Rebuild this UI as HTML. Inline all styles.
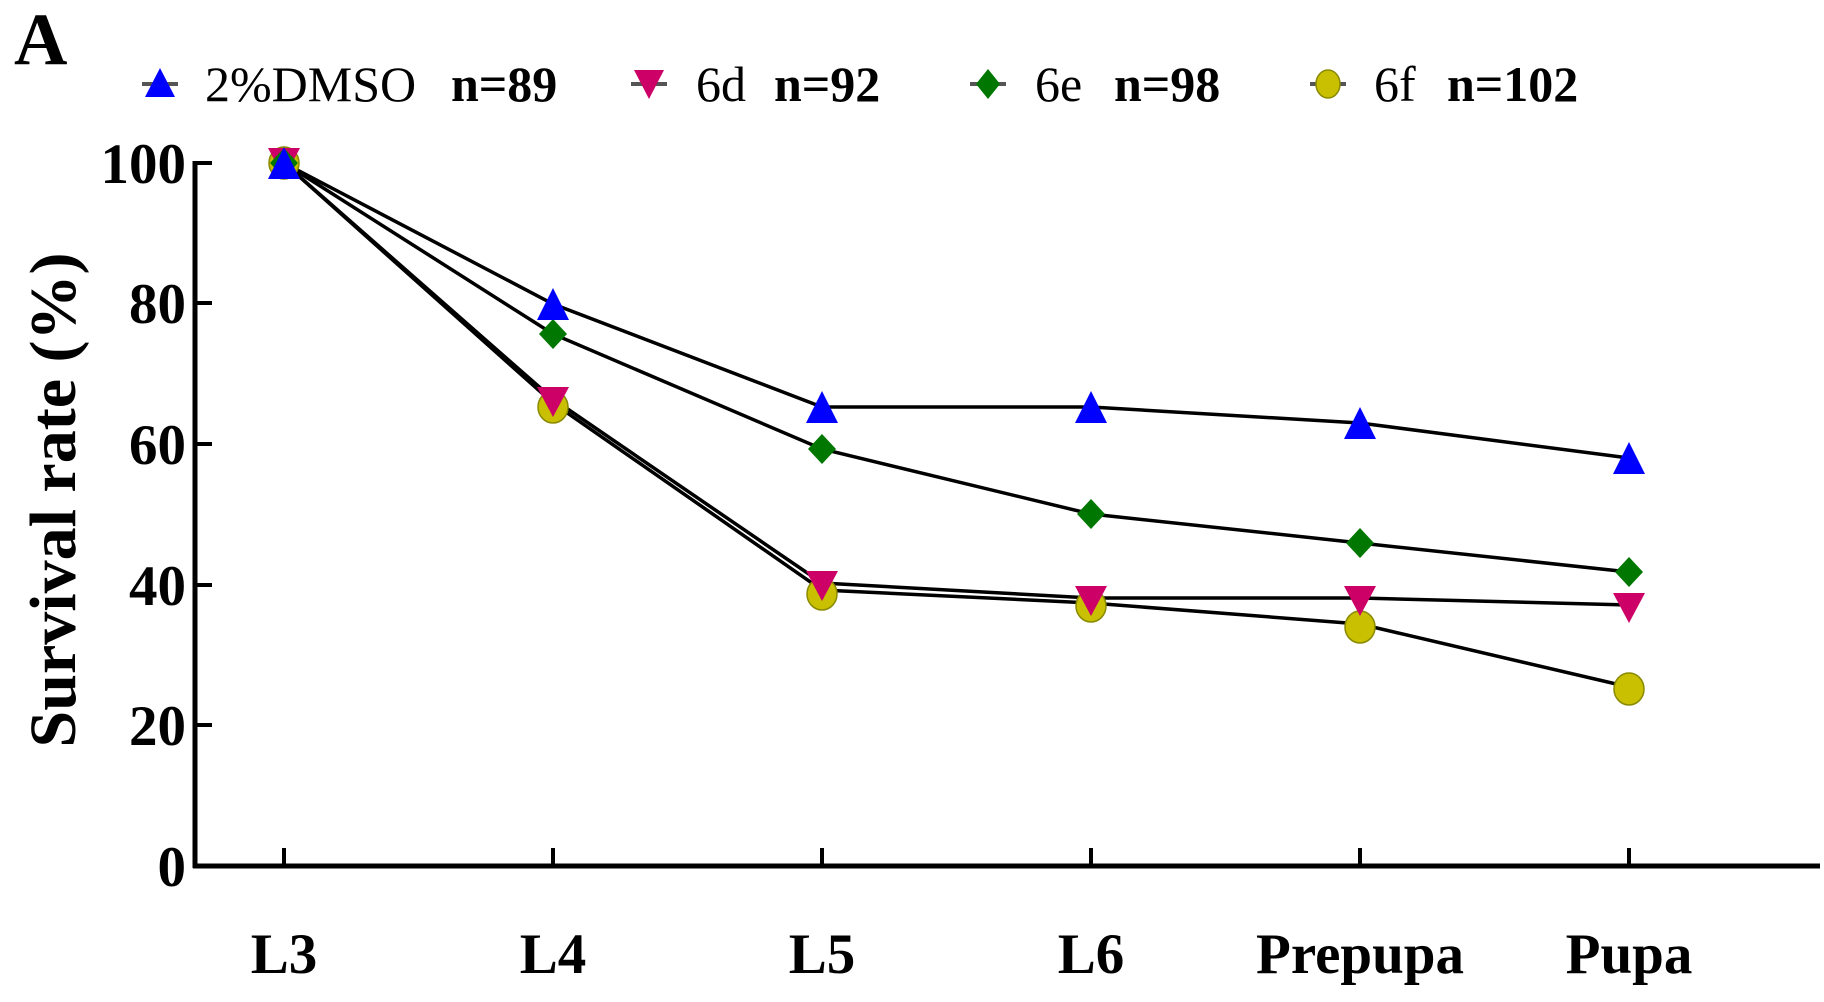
<!DOCTYPE html>
<html><head><meta charset="utf-8"><style>
html,body{margin:0;padding:0;background:#fff;}
svg{display:block;}
text{font-family:"Liberation Serif",serif;}
</style></head><body>
<svg width="1824" height="1002" viewBox="0 0 1824 1002" xmlns="http://www.w3.org/2000/svg">
<text x="14" y="64" font-size="74" font-weight="bold">A</text>
<g font-size="50">
<line x1="142" y1="84" x2="178" y2="84" stroke="#555" stroke-width="4"/>
<polygon points="160,68 175,97 145,97" fill="#0000ff"/>
<text x="205" y="101">2%DMSO</text><text x="451" y="101" font-weight="bold">n=89</text>
<line x1="631" y1="84" x2="667" y2="84" stroke="#555" stroke-width="4"/>
<polygon points="634,70 664,70 649,99" fill="#cc0066"/>
<text x="696" y="101">6d</text><text x="774" y="101" font-weight="bold">n=92</text>
<line x1="970" y1="84" x2="1006" y2="84" stroke="#555" stroke-width="4"/>
<polygon points="988,69 1000,84 988,99 976,84" fill="#007700"/>
<text x="1035" y="101">6e</text><text x="1114" y="101" font-weight="bold">n=98</text>
<line x1="1310" y1="84" x2="1346" y2="84" stroke="#555" stroke-width="4"/>
<ellipse cx="1328" cy="84" rx="12" ry="14" fill="#c8c000" stroke="#8a8a00" stroke-width="1.5"/>
<text x="1374" y="101">6f</text><text x="1447" y="101" font-weight="bold">n=102</text>
</g>
<!-- axes -->
<line x1="195" y1="161" x2="195" y2="868" stroke="#000" stroke-width="5"/>
<line x1="193" y1="866" x2="1820" y2="866" stroke="#000" stroke-width="5"/>
<g stroke="#000" stroke-width="4">
<line x1="193" y1="163" x2="212" y2="163"/><line x1="193" y1="303" x2="212" y2="303"/>
<line x1="193" y1="444" x2="212" y2="444"/><line x1="193" y1="585" x2="212" y2="585"/>
<line x1="193" y1="725" x2="212" y2="725"/>
<line x1="284" y1="848" x2="284" y2="866"/><line x1="553" y1="848" x2="553" y2="866"/>
<line x1="822" y1="848" x2="822" y2="866"/><line x1="1091" y1="848" x2="1091" y2="866"/>
<line x1="1360" y1="848" x2="1360" y2="866"/><line x1="1629" y1="848" x2="1629" y2="866"/>
</g>
<g font-size="57" font-weight="bold" text-anchor="end">
<text x="186" y="183">100</text><text x="186" y="323">80</text><text x="186" y="464">60</text>
<text x="186" y="605">40</text><text x="186" y="745">20</text><text x="186" y="886">0</text>
</g>
<g font-size="57" font-weight="bold" text-anchor="middle">
<text x="284" y="973">L3</text><text x="553" y="973">L4</text><text x="822" y="973">L5</text>
<text x="1091" y="973">L6</text><text x="1360" y="973">Prepupa</text><text x="1629" y="973">Pupa</text>
</g>
<text transform="translate(75,500) rotate(-90)" font-size="66" font-weight="bold" text-anchor="middle">Survival rate (%)</text>
<!-- lines -->
<g fill="none" stroke="#000" stroke-width="3.5">
<polyline points="284,163 553,304 822,407 1091,407 1360,423 1629,458"/>
<polyline points="284,163 553,334 822,449 1091,514 1360,543 1629,572"/>
<polyline points="284,163 553,399 822,583 1091,598 1360,598 1629,605"/>
<polyline points="284,163 553,403 822,590 1091,603 1360,624 1629,687"/>
</g>
<!-- 6f circles -->
<g fill="#c8c000" stroke="#8a8a00" stroke-width="1.5">
<ellipse cx="284" cy="163" rx="15" ry="16"/><ellipse cx="553" cy="407" rx="15" ry="16"/>
<ellipse cx="822" cy="594" rx="15" ry="16"/><ellipse cx="1091" cy="606" rx="15" ry="16"/>
<ellipse cx="1360" cy="627" rx="15" ry="16"/><ellipse cx="1629" cy="689" rx="15" ry="16"/>
</g>
<!-- 6d down triangles -->
<g fill="#cc0066">
<polygon points="268,148 300,148 284,178"/><polygon points="537,387 569,387 553,417"/>
<polygon points="806,571 838,571 822,601"/><polygon points="1075,586 1107,586 1091,616"/>
<polygon points="1344,586 1376,586 1360,616"/><polygon points="1613,593 1645,593 1629,623"/>
</g>
<!-- 6e diamonds -->
<g fill="#007700">
<polygon points="284,148 298,163 284,178 270,163"/><polygon points="553,319 567,334 553,349 539,334"/>
<polygon points="822,434 836,449 822,464 808,449"/><polygon points="1091,499 1105,514 1091,529 1077,514"/>
<polygon points="1360,528 1374,543 1360,558 1346,543"/><polygon points="1629,557 1643,572 1629,587 1615,572"/>
</g>
<!-- DMSO up triangles -->
<g fill="#0000ff">
<polygon points="284,147 300,179 268,179"/><polygon points="553,288 569,320 537,320"/>
<polygon points="822,391 838,423 806,423"/><polygon points="1091,391 1107,423 1075,423"/>
<polygon points="1360,407 1376,439 1344,439"/><polygon points="1629,442 1645,474 1613,474"/>
</g>
</svg>
</body></html>
